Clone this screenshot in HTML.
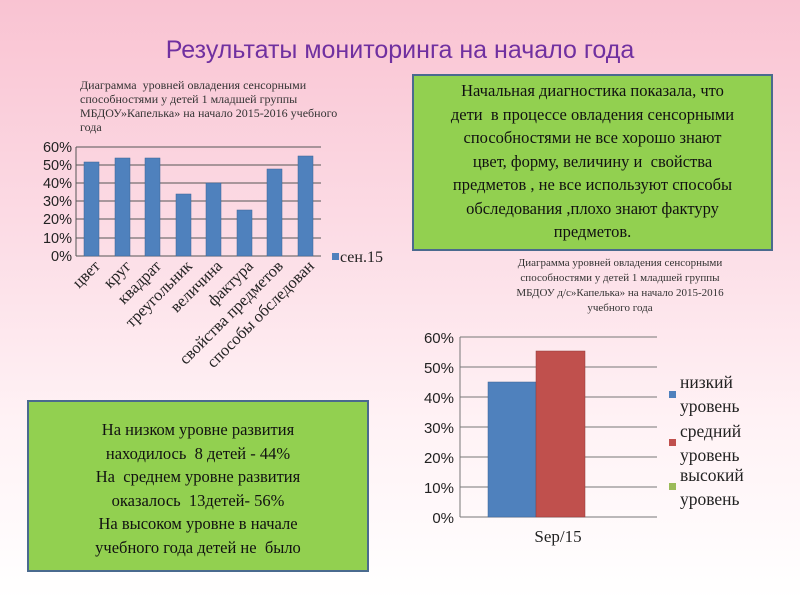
<!DOCTYPE html>
<html><head><meta charset="utf-8"><style>
html,body{margin:0;padding:0}
body{width:800px;height:600px;overflow:hidden;background:linear-gradient(to bottom,#f9c3d2 0%,#fcdde6 40%,#fff2f5 70%,#ffffff 100%);position:relative;font-family:"Liberation Serif","DejaVu Serif",serif}
.box{position:absolute;background:#92d050;border:2px solid #4a6a8e;box-sizing:border-box;text-align:center;color:#111;font-family:"Liberation Serif",serif}
</style></head><body>
<div style="position:absolute;left:0;top:36px;width:800px;text-align:center;font-family:'Liberation Sans','DejaVu Sans',sans-serif;font-size:25px;color:#7030a0">Результаты мониторинга на начало года</div>
<div class="box" style="left:412px;top:74px;width:361px;height:177px;font-size:16.5px;line-height:23.5px;padding-top:3px">Начальная диагностика показала, что<br>дети&nbsp; в процессе овладения сенсорными<br>способностями не все хорошо знают<br>цвет, форму, величину и&nbsp; свойства<br>предметов , не все используют способы<br>обследования ,плохо знают фактуру<br>предметов.</div>
<div class="box" style="left:27px;top:400px;width:342px;height:172px;font-size:16.5px;line-height:23.5px;padding-top:16px">На низком уровне развития<br>находилось&nbsp; 8 детей - 44%<br>На&nbsp; среднем уровне развития<br>оказалось&nbsp; 13детей- 56%<br>На высоком уровне в начале<br>учебного года детей не&nbsp; было</div>
<svg width="800" height="600" style="position:absolute;left:0;top:0" font-family="Liberation Serif, serif">
<g font-size="12" fill="#333"><text x="80" y="89">Диаграмма&nbsp; уровней овладения сенсорными</text><text x="80" y="103">способностями у детей 1 младшей группы</text><text x="80" y="117">МБДОУ»Капелька» на начало 2015-2016 учебного</text><text x="80" y="131">года</text></g>
<g stroke="#555" stroke-width="1">
<line x1="76" y1="147" x2="321" y2="147"/><line x1="76" y1="165" x2="321" y2="165"/><line x1="76" y1="183" x2="321" y2="183"/><line x1="76" y1="201" x2="321" y2="201"/><line x1="76" y1="219" x2="321" y2="219"/><line x1="76" y1="238" x2="321" y2="238"/><line x1="76" y1="256" x2="321" y2="256"/><line x1="76" y1="147" x2="76" y2="256"/></g>
<g font-family="Liberation Sans, sans-serif" font-size="14.5" fill="#222" text-anchor="end"><text x="72" y="152">60%</text><text x="72" y="170">50%</text><text x="72" y="188">40%</text><text x="72" y="206">30%</text><text x="72" y="224">20%</text><text x="72" y="243">10%</text><text x="72" y="261">0%</text></g>
<g fill="#4f81bd" stroke="#3a6394" stroke-width="0.5">
<rect x="84" y="162" width="15" height="94"/><rect x="115" y="158" width="15" height="98"/><rect x="145" y="158" width="15" height="98"/><rect x="176" y="194" width="15" height="62"/><rect x="206" y="183" width="15" height="73"/><rect x="237" y="210" width="15" height="46"/><rect x="267" y="169" width="15" height="87"/><rect x="298" y="156" width="15" height="100"/></g>
<rect x="332" y="253" width="7" height="7" fill="#4f81bd"/><text x="340" y="262" font-size="16" fill="#222">сен.15</text>
<g font-size="16.5" fill="#222" text-anchor="end">
<text transform="translate(101,267) rotate(-45)">цвет</text><text transform="translate(132,267) rotate(-45)">круг</text><text transform="translate(162,267) rotate(-45)">квадрат</text><text transform="translate(193,267) rotate(-45)">треугольник</text><text transform="translate(223,267) rotate(-45)">величина</text><text transform="translate(254,267) rotate(-45)">фактура</text><text transform="translate(284,267) rotate(-45)">свойства предметов</text><text transform="translate(315,267) rotate(-45)">способы обследован</text></g>
<g font-size="11" fill="#333" text-anchor="middle"><text x="620" y="266">Диаграмма уровней овладения сенсорными</text><text x="620" y="281">способностями у детей 1 младшей группы</text><text x="620" y="296">МБДОУ д/с»Капелька» на начало 2015-2016</text><text x="620" y="311">учебного года</text></g>
<g stroke="#777" stroke-width="1"><line x1="460" y1="337" x2="657" y2="337"/><line x1="460" y1="367" x2="657" y2="367"/><line x1="460" y1="397" x2="657" y2="397"/><line x1="460" y1="427" x2="657" y2="427"/><line x1="460" y1="457" x2="657" y2="457"/><line x1="460" y1="487" x2="657" y2="487"/><line x1="460" y1="517" x2="657" y2="517"/><line x1="460" y1="337" x2="460" y2="517"/></g>
<g font-family="Liberation Sans, sans-serif" font-size="15" fill="#222" text-anchor="end"><text x="454" y="343">60%</text><text x="454" y="373">50%</text><text x="454" y="403">40%</text><text x="454" y="433">30%</text><text x="454" y="463">20%</text><text x="454" y="493">10%</text><text x="454" y="523">0%</text></g>
<rect x="488" y="382" width="48" height="135" fill="#4f81bd" stroke="#3a6394" stroke-width="0.5"/>
<rect x="536" y="351" width="49" height="166" fill="#c0504d" stroke="#8e3a38" stroke-width="0.5"/>
<text x="558" y="542" font-size="17" fill="#222" text-anchor="middle">Sep/15</text>
<rect x="669" y="391" width="7" height="7" fill="#4f81bd"/><rect x="669" y="439" width="7" height="7" fill="#c0504d"/><rect x="669" y="483" width="7" height="7" fill="#9bbb59"/>
<g font-size="17.5" fill="#222"><text x="680" y="388">низкий</text><text x="680" y="412">уровень</text><text x="680" y="437">средний</text><text x="680" y="461">уровень</text><text x="680" y="481">высокий</text><text x="680" y="505">уровень</text></g>
</svg>
</body></html>
